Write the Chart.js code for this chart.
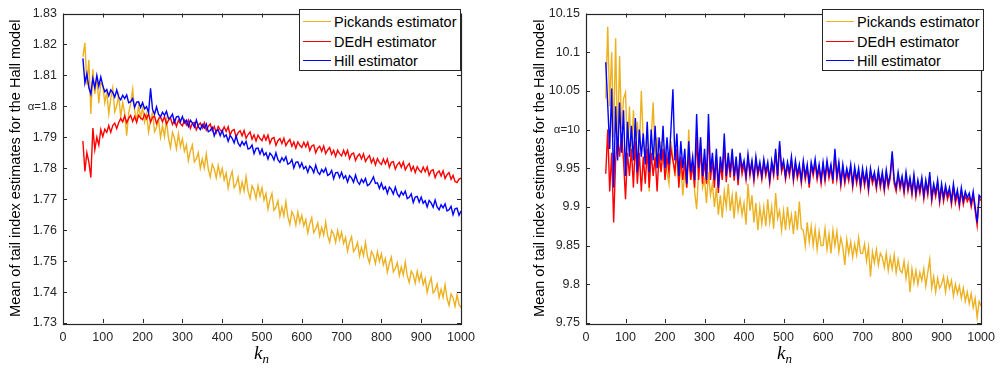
<!DOCTYPE html>
<html>
<head>
<meta charset="utf-8">
<script src="https://cdn.jsdelivr.net/npm/chart.js@4.4.1/dist/chart.umd.min.js"></script>
<style>
  html, body { margin:0; padding:0; background:#fff; }
  body { width:1002px; height:369px; position:relative; overflow:hidden; font-family:'Liberation Sans', Arial, sans-serif; }
  .cv { position:absolute; top:0; }
  .leg { position:absolute; box-sizing:border-box; border:1px solid #262626; background:#fff; }
  .row { position:absolute; left:0; height:0; }
  .row .ln { position:absolute; left:3px; width:28px; height:0; border-top:1.6px solid; top:-1px; }
  .row .tx { position:absolute; left:34px; top:-9px; font-size:14.5px; line-height:18px; color:#000; white-space:nowrap; }
  .xt { position:absolute; font-family:'Liberation Serif','DejaVu Serif',serif; font-style:italic; font-size:19px; color:#000; line-height:19px; }
  .xt sub { font-size:13px; vertical-align:-4px; }
</style>
</head>
<body>
<div class="cv" style="left:0;width:501px;height:369px"><canvas id="c1" width="501" height="369"></canvas></div>
<div class="cv" style="left:523px;width:479px;height:369px"><canvas id="c2" width="479" height="369"></canvas></div>

<div class="leg" style="left:299px;top:9px;width:162px;height:62px">
  <div class="row" style="top:12px"><div class="ln" style="border-color:#EDB120"></div><div class="tx">Pickands estimator</div></div>
  <div class="row" style="top:32px"><div class="ln" style="border-color:#FF0000"></div><div class="tx">DEdH estimator</div></div>
  <div class="row" style="top:51px"><div class="ln" style="border-color:#0000FF"></div><div class="tx">Hill estimator</div></div>
</div>
<div class="leg" style="left:822px;top:9px;width:162px;height:62px">
  <div class="row" style="top:12px"><div class="ln" style="border-color:#EDB120"></div><div class="tx">Pickands estimator</div></div>
  <div class="row" style="top:32px"><div class="ln" style="border-color:#FF0000"></div><div class="tx">DEdH estimator</div></div>
  <div class="row" style="top:51px"><div class="ln" style="border-color:#0000FF"></div><div class="tx">Hill estimator</div></div>
</div>
<div class="xt" style="left:254px;top:343px">k<sub>n</sub></div>
<div class="xt" style="left:777px;top:343px">k<sub>n</sub></div>

<script>
const kn = [50,55,60,65,70,75,80,85,90,95,100,105,110,115,120,125,130,135,140,145,150,155,160,165,170,175,180,185,190,195,200,205,210,215,220,225,230,235,240,245,250,255,260,265,270,275,280,285,290,295,300,305,310,315,320,325,330,335,340,345,350,355,360,365,370,375,380,385,390,395,400,405,410,415,420,425,430,435,440,445,450,455,460,465,470,475,480,485,490,495,500,505,510,515,520,525,530,535,540,545,550,555,560,565,570,575,580,585,590,595,600,605,610,615,620,625,630,635,640,645,650,655,660,665,670,675,680,685,690,695,700,705,710,715,720,725,730,735,740,745,750,755,760,765,770,775,780,785,790,795,800,805,810,815,820,825,830,835,840,845,850,855,860,865,870,875,880,885,890,895,900,905,910,915,920,925,930,935,940,945,950,955,960,965,970,975,980,985,990,995,1000];

// Left panel (alpha = 1.8)
const pickandsA = [
1.8160,1.8205,1.8070,1.8150,1.7975,1.8120,1.8040,1.8095,1.8010,1.8075,
1.8068,1.8012,1.8047,1.7976,1.8026,1.8060,1.7982,1.8002,1.8036,1.7966,
1.8012,1.7979,1.7905,1.7978,1.8010,1.8055,1.7986,1.7952,1.8003,1.7964,
1.7995,1.7949,1.7975,1.7917,1.7955,1.7982,1.7918,1.7932,1.7958,1.7900,
1.7937,1.7902,1.7956,1.7897,1.7867,1.7916,1.7898,1.7863,1.7911,1.7870,
1.7895,1.7855,1.7875,1.7825,1.7855,1.7875,1.7820,1.7830,1.7850,1.7800,
1.7830,1.7801,1.7846,1.7797,1.7772,1.7813,1.7798,1.7769,1.7809,1.7775,
1.7800,1.7762,1.7784,1.7736,1.7768,1.7790,1.7737,1.7749,1.7771,1.7723,
1.7755,1.7727,1.7773,1.7725,1.7702,1.7743,1.7730,1.7702,1.7743,1.7710,
1.7737,1.7697,1.7718,1.7668,1.7698,1.7719,1.7664,1.7674,1.7695,1.7645,
1.7675,1.7646,1.7692,1.7643,1.7619,1.7660,1.7646,1.7617,1.7658,1.7624,
1.7648,1.7614,1.7634,1.7591,1.7620,1.7640,1.7592,1.7604,1.7623,1.7581,
1.7609,1.7584,1.7626,1.7582,1.7561,1.7599,1.7587,1.7561,1.7599,1.7569,
1.7593,1.7557,1.7576,1.7532,1.7561,1.7579,1.7531,1.7541,1.7560,1.7516,
1.7544,1.7518,1.7560,1.7515,1.7494,1.7531,1.7519,1.7492,1.7530,1.7499,
1.7523,1.7488,1.7508,1.7464,1.7493,1.7513,1.7465,1.7476,1.7495,1.7453,
1.7481,1.7455,1.7497,1.7452,1.7431,1.7468,1.7456,1.7429,1.7467,1.7436,
1.7460,1.7424,1.7444,1.7399,1.7427,1.7446,1.7397,1.7406,1.7426,1.7382,
1.7409,1.7383,1.7424,1.7379,1.7357,1.7394,1.7381,1.7354,1.7391,1.7360,
1.7350];
const dedhA = [
1.7888,1.7790,1.7850,1.7820,1.7770,1.7930,1.7860,1.7900,1.7875,1.7925,
1.7902,1.7926,1.7916,1.7938,1.7916,1.7938,1.7946,1.7928,1.7948,1.7961,
1.7950,1.7969,1.7947,1.7961,1.7971,1.7951,1.7967,1.7949,1.7971,1.7962,
1.7957,1.7975,1.7960,1.7976,1.7949,1.7965,1.7968,1.7944,1.7959,1.7966,
1.7950,1.7967,1.7943,1.7955,1.7963,1.7941,1.7955,1.7935,1.7955,1.7944,
1.7937,1.7955,1.7940,1.7956,1.7929,1.7945,1.7948,1.7924,1.7939,1.7946,
1.7930,1.7947,1.7923,1.7935,1.7943,1.7921,1.7935,1.7915,1.7935,1.7924,
1.7917,1.7934,1.7919,1.7934,1.7907,1.7922,1.7925,1.7900,1.7915,1.7921,
1.7905,1.7922,1.7897,1.7909,1.7917,1.7894,1.7908,1.7888,1.7907,1.7896,
1.7889,1.7907,1.7891,1.7907,1.7880,1.7896,1.7899,1.7874,1.7889,1.7896,
1.7880,1.7897,1.7873,1.7885,1.7893,1.7871,1.7885,1.7865,1.7885,1.7874,
1.7867,1.7884,1.7869,1.7884,1.7857,1.7872,1.7875,1.7850,1.7865,1.7871,
1.7855,1.7872,1.7847,1.7859,1.7867,1.7845,1.7858,1.7838,1.7858,1.7847,
1.7840,1.7858,1.7842,1.7858,1.7831,1.7846,1.7849,1.7825,1.7839,1.7846,
1.7830,1.7846,1.7822,1.7833,1.7841,1.7818,1.7832,1.7811,1.7831,1.7819,
1.7812,1.7830,1.7814,1.7830,1.7803,1.7819,1.7821,1.7797,1.7812,1.7819,
1.7803,1.7820,1.7795,1.7807,1.7815,1.7792,1.7806,1.7786,1.7805,1.7794,
1.7787,1.7804,1.7789,1.7804,1.7777,1.7792,1.7795,1.7770,1.7785,1.7791,
1.7775,1.7792,1.7767,1.7779,1.7786,1.7764,1.7777,1.7757,1.7754,1.7765,
1.7768];
const hillA = [
1.8155,1.8075,1.8105,1.8060,1.8040,1.8090,1.8060,1.8100,1.8065,1.8095,
1.8067,1.8047,1.8054,1.8034,1.8053,1.8045,1.8030,1.8053,1.8030,1.8021,
1.8036,1.8025,1.8037,1.8012,1.8015,1.8025,1.7997,1.8014,1.8015,1.7996,
1.8012,1.7992,1.7999,1.7979,1.8058,1.7990,1.7975,1.7998,1.7975,1.7966,
1.7981,1.7971,1.7984,1.7960,1.7964,1.7975,1.7948,1.7966,1.7968,1.7950,
1.7967,1.7947,1.7955,1.7935,1.7955,1.7947,1.7933,1.7956,1.7934,1.7925,
1.7941,1.7930,1.7943,1.7918,1.7922,1.7932,1.7905,1.7922,1.7924,1.7905,
1.7922,1.7901,1.7908,1.7887,1.7906,1.7897,1.7882,1.7904,1.7881,1.7871,
1.7886,1.7875,1.7887,1.7862,1.7865,1.7875,1.7847,1.7864,1.7865,1.7846,
1.7862,1.7842,1.7850,1.7830,1.7849,1.7841,1.7827,1.7850,1.7828,1.7819,
1.7834,1.7824,1.7837,1.7813,1.7817,1.7828,1.7801,1.7819,1.7821,1.7803,
1.7817,1.7798,1.7806,1.7787,1.7807,1.7800,1.7786,1.7810,1.7788,1.7780,
1.7796,1.7787,1.7800,1.7777,1.7781,1.7793,1.7766,1.7785,1.7787,1.7770,
1.7787,1.7767,1.7776,1.7756,1.7776,1.7769,1.7755,1.7778,1.7757,1.7748,
1.7764,1.7754,1.7767,1.7744,1.7748,1.7759,1.7772,1.7751,1.7753,1.7735,
1.7752,1.7732,1.7740,1.7719,1.7739,1.7731,1.7717,1.7739,1.7717,1.7708,
1.7724,1.7714,1.7726,1.7702,1.7706,1.7717,1.7689,1.7707,1.7709,1.7690,
1.7707,1.7687,1.7695,1.7675,1.7696,1.7688,1.7674,1.7697,1.7675,1.7666,
1.7682,1.7672,1.7685,1.7662,1.7666,1.7677,1.7650,1.7669,1.7671,1.7648,
1.7662];

// Right panel (alpha = 10)
const pickandsB = [
10.040,10.133,10.030,10.100,9.990,10.118,9.975,10.095,10.000,10.040,
10.048,9.970,10.030,9.960,10.025,9.975,10.010,9.970,10.050,9.985,
9.960,10.005,9.920,9.990,10.035,9.965,9.990,9.950,9.985,9.960,
9.975,9.945,9.930,9.985,9.965,9.940,9.970,9.930,9.955,9.915,
9.945,9.925,10.000,9.935,9.955,9.920,9.897,9.945,9.990,9.925,
9.935,9.905,9.945,9.915,9.930,9.900,9.925,9.890,9.915,9.886,
9.920,9.900,9.930,9.895,9.915,9.885,9.920,9.895,9.910,9.890,
9.905,9.877,9.930,9.895,9.915,9.880,9.905,9.870,9.900,9.878,
9.900,9.875,9.910,9.880,9.900,9.872,9.918,9.885,9.895,9.870,
9.895,9.870,9.900,9.875,9.890,9.865,9.895,9.870,9.907,9.872,
9.870,9.850,9.880,9.855,9.875,9.850,9.872,9.845,9.868,9.850,
9.850,9.872,9.845,9.865,9.840,9.870,9.850,9.868,9.842,9.860,
9.848,9.825,9.858,9.840,9.855,9.835,9.852,9.838,9.860,9.840,
9.840,9.852,9.830,9.848,9.810,9.842,9.828,9.845,9.825,9.840,
9.835,9.822,9.840,9.818,9.835,9.820,9.838,9.815,9.832,9.818,
9.815,9.830,9.808,9.825,9.790,9.820,9.802,9.818,9.800,9.815,
9.805,9.820,9.798,9.815,9.832,9.795,9.810,9.790,9.808,9.795,
9.800,9.810,9.790,9.808,9.795,9.805,9.785,9.800,9.788,9.798,
9.782,9.795,9.778,9.790,9.775,9.788,9.770,9.782,9.757,9.778,
9.772];
const dedhB = [
9.943,10.000,9.920,9.970,9.880,9.960,9.990,9.965,9.995,9.960,
9.910,9.970,9.940,9.975,9.925,9.985,9.930,9.970,9.920,9.965,
9.930,9.975,9.925,9.970,9.940,9.965,9.920,9.970,9.945,9.975,
9.935,9.965,9.945,9.975,9.960,9.945,9.975,9.925,9.965,9.935,
9.960,9.925,9.970,9.935,9.955,9.925,9.990,9.935,9.975,9.930,
9.960,9.930,9.995,9.935,9.960,9.925,9.965,9.918,9.955,9.935,
9.980,9.932,9.962,9.938,9.966,9.934,9.958,9.928,9.962,9.942,
9.955,9.935,9.963,9.940,9.956,9.933,9.960,9.940,9.953,9.935,
9.957,9.940,9.953,9.930,9.955,9.940,9.970,9.935,9.980,9.945,
9.955,9.935,9.953,9.940,9.960,9.933,9.955,9.937,9.950,9.930,
9.955,9.935,9.950,9.925,9.953,9.940,9.957,9.935,9.950,9.930,
9.953,9.933,9.955,9.937,9.950,9.930,9.970,9.935,9.953,9.927,
9.950,9.930,9.945,9.933,9.950,9.925,9.947,9.930,9.945,9.923,
9.945,9.927,9.943,9.920,9.945,9.930,9.940,9.923,9.943,9.925,
9.940,9.920,9.943,9.925,9.937,9.967,9.930,9.920,9.940,9.923,
9.935,9.917,9.940,9.920,9.933,9.915,9.937,9.913,9.930,9.917,
9.933,9.910,9.930,9.915,9.940,9.907,9.925,9.913,9.930,9.905,
9.925,9.907,9.923,9.910,9.920,9.903,9.925,9.905,9.917,9.900,
9.920,9.903,9.915,9.907,9.913,9.900,9.915,9.895,9.876,9.912,
9.908];
const hillB = [
10.087,10.032,9.975,10.053,9.925,10.030,9.960,10.035,9.970,10.025,
9.940,10.010,9.965,10.005,9.960,10.015,9.945,10.000,9.965,9.995,
9.955,10.010,9.945,10.000,9.960,10.005,9.950,9.990,9.960,10.005,
9.950,9.990,9.955,10.000,10.052,9.960,9.995,9.940,9.985,9.950,
9.975,9.930,9.985,9.945,9.965,9.935,10.020,9.950,9.990,9.940,
9.975,9.935,10.020,9.945,9.970,9.935,9.975,9.925,9.965,9.945,
9.995,9.940,9.970,9.945,9.975,9.940,9.965,9.935,9.970,9.950,
9.960,9.940,9.968,9.945,9.960,9.938,9.965,9.945,9.958,9.940,
9.962,9.945,9.958,9.935,9.960,9.945,9.975,9.940,9.985,9.950,
9.960,9.940,9.958,9.945,9.965,9.938,9.960,9.942,9.955,9.935,
9.960,9.940,9.955,9.930,9.958,9.945,9.962,9.940,9.955,9.935,
9.958,9.938,9.960,9.942,9.955,9.935,9.975,9.940,9.958,9.932,
9.955,9.935,9.950,9.938,9.955,9.930,9.952,9.935,9.950,9.928,
9.950,9.932,9.948,9.925,9.950,9.935,9.945,9.928,9.948,9.930,
9.945,9.925,9.948,9.930,9.942,9.972,9.935,9.925,9.945,9.928,
9.940,9.922,9.945,9.925,9.938,9.920,9.942,9.918,9.935,9.922,
9.938,9.915,9.935,9.920,9.945,9.912,9.930,9.918,9.935,9.910,
9.930,9.912,9.928,9.915,9.925,9.908,9.930,9.910,9.922,9.905,
9.925,9.908,9.920,9.912,9.918,9.905,9.920,9.900,9.880,9.915,
9.912];

const xTicks = [0,100,200,300,400,500,600,700,800,900,1000];
const xLabels = ['0','100','200','300','400','500','600','700','800','900','1000'];
const yTicksA = [1.73,1.74,1.75,1.76,1.77,1.78,1.79,1.80,1.81,1.82,1.83];
const yLabelsA = ['1.73','1.74','1.75','1.76','1.77','1.78','1.79','\u03B1=1.8','1.81','1.82','1.83'];
const yTicksB = [9.75,9.80,9.85,9.90,9.95,10.00,10.05,10.10,10.15];
const yLabelsB = ['9.75','9.8','9.85','9.9','9.95','\u03B1=10','10.05','10.1','10.15'];
const seriesNames = ['Pickands estimator','DEdH estimator','Hill estimator'];
const seriesColors = ['#EDB120','#FF0000','#0000FF'];
const yTitle = 'Mean of tail index estimates for the Hall model';

const frame = {
  id: 'frame',
  afterDatasetsDraw(chart) {
    const {ctx, chartArea: {left, right, top, bottom}, scales: {x, y}} = chart;
    ctx.save();
    ctx.strokeStyle = '#262626';
    ctx.lineWidth = 1;
    ctx.beginPath();
    x.ticks.forEach(t => {
      const p = Math.round(x.getPixelForValue(t.value)) + 0.5;
      ctx.moveTo(p, bottom); ctx.lineTo(p, bottom - 4);
      ctx.moveTo(p, top); ctx.lineTo(p, top + 4);
    });
    y.ticks.forEach(t => {
      const p = Math.round(y.getPixelForValue(t.value)) + 0.5;
      ctx.moveTo(left, p); ctx.lineTo(left + 4, p);
      ctx.moveTo(right, p); ctx.lineTo(right - 4, p);
    });
    ctx.stroke();
    ctx.lineWidth = 1.2;
    ctx.strokeRect(Math.round(left) + 0.5, Math.round(top) + 0.5, Math.round(right - left), Math.round(bottom - top));
    ctx.restore();
  }
};

function labelFor(ticks, labels, v) {
  const i = ticks.findIndex(t => Math.abs(t - v) < 1e-9);
  return i >= 0 ? labels[i] : '';
}

function makeChart(id, p, d, h, yTicks, yLabels, ymin, ymax, padRight, titlePad) {
  const mk = (arr) => kn.map((k, i) => ({x: k, y: arr[i]}));
  return new Chart(document.getElementById(id), {
    type: 'line',
    data: {
      datasets: [
        {label: seriesNames[2], data: mk(h), borderColor: seriesColors[2]},
        {label: seriesNames[1], data: mk(d), borderColor: seriesColors[1]},
        {label: seriesNames[0], data: mk(p), borderColor: seriesColors[0]}
      ]
    },
    options: {
      responsive: false,
      animation: false,
      events: [],
      elements: { point: { radius: 0 }, line: { borderWidth: 1.4, tension: 0 } },
      layout: { padding: { top: 9, right: padRight, left: 0, bottom: 0 } },
      plugins: { legend: { display: false }, tooltip: { enabled: false } },
      scales: {
        x: {
          type: 'linear', min: 0, max: 1000,
          afterBuildTicks: (s) => { s.ticks = xTicks.map(v => ({value: v})); },
          afterFit: (s) => { s.height = 46; },
          grid: { display: false, drawTicks: false },
          border: { display: false },
          ticks: {
            color: '#262626', font: { family: "'Liberation Sans', Arial, sans-serif", size: 12.5 }, padding: 7, maxRotation: 0, autoSkip: false,
            callback: (v) => labelFor(xTicks, xLabels, v)
          }
        },
        y: {
          type: 'linear', min: ymin, max: ymax,
          afterBuildTicks: (s) => { s.ticks = yTicks.map(v => ({value: v})); },
          afterFit: (s) => { s.width = 63; },
          grid: { display: false, drawTicks: false },
          border: { display: false },
          ticks: {
            color: '#262626', padding: 6, autoSkip: false,
            font: (c) => ({ family: "'Liberation Sans', Arial, sans-serif", size: (c.tick && labelFor(yTicks, yLabels, c.tick.value).indexOf('\u03B1') === 0) ? 11.5 : 12.5 }),
            callback: (v) => labelFor(yTicks, yLabels, v)
          },
          title: { display: true, text: yTitle, color: '#000', padding: { top: titlePad, bottom: 0 }, font: { family: "'Liberation Sans', Arial, sans-serif", size: 14.5 } }
        }
      }
    },
    plugins: [frame]
  });
}

makeChart('c1', pickandsA, dedhA, hillA, yTicksA, yLabelsA, 1.73, 1.83, 40, 7);
makeChart('c2', pickandsB, dedhB, hillB, yTicksB, yLabelsB, 9.75, 10.15, 18, 8);
</script>
</body>
</html>
